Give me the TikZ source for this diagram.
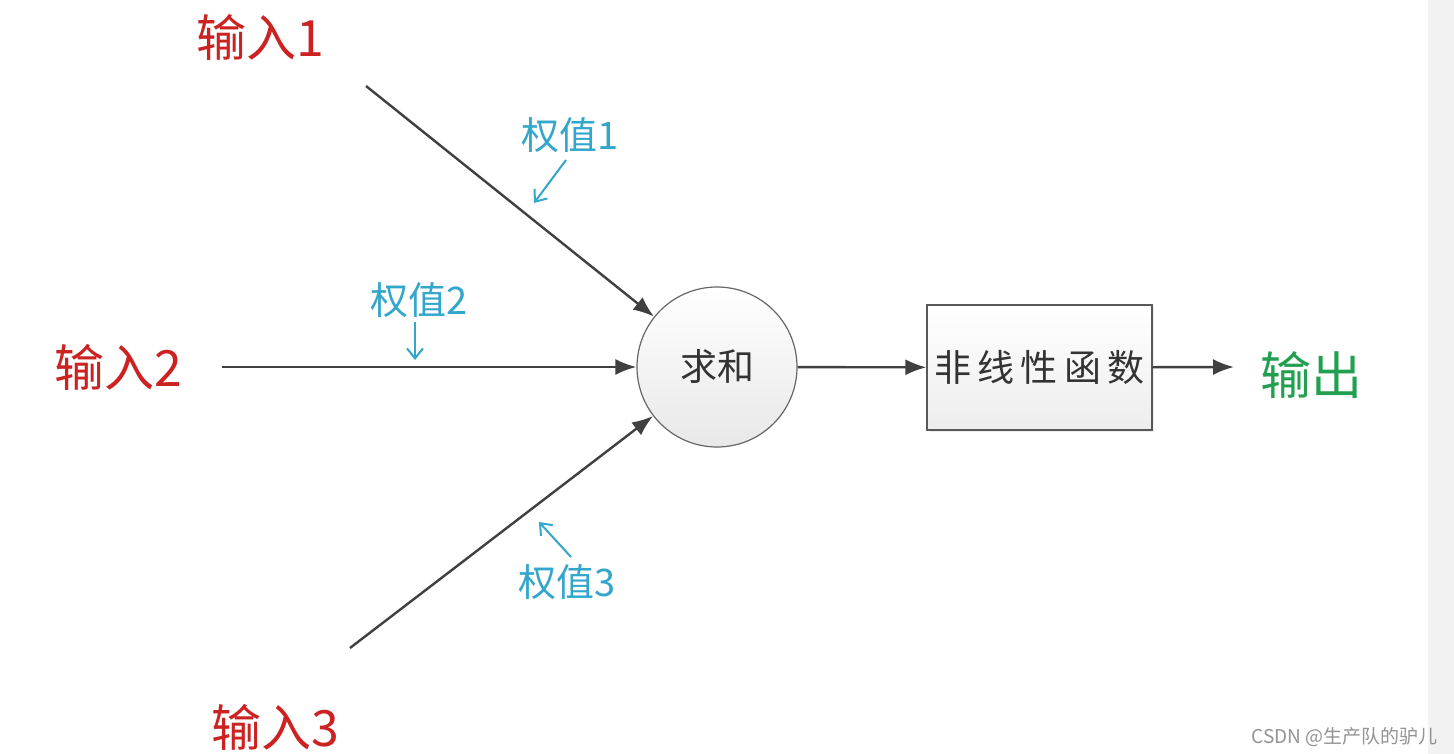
\documentclass[tikz,border=0pt]{standalone}
\usepackage{fontspec}
\newfontfamily\cjk{Noto Sans CJK SC}
\usetikzlibrary{arrows.meta,shadows}
\definecolor{inred}{HTML}{CC2222}
\definecolor{wcyan}{HTML}{33A6CC}
\definecolor{outgreen}{HTML}{22A050}
\definecolor{lgray}{HTML}{404040}
\tikzset{
  conn/.style={draw=lgray, line width=2.4pt, -{Latex[length=21pt,width=16pt]}},
  wtag/.style={text=wcyan, font=\cjk\fontsize{38}{40}\selectfont, inner sep=0pt},
  warrow/.style={draw=wcyan, line width=2pt, -{Straight Barb[length=10pt,width=16pt]}},
  intag/.style={text=inred, font=\cjk\fontsize{50}{52}\selectfont, inner sep=0pt},
  blocktext/.style={font=\cjk\fontsize{37}{39}\selectfont, text=black!80},
}
\begin{document}
\begin{tikzpicture}[x=1pt,y=-1pt]
\useasboundingbox (0,0) rectangle (1454,754);
\fill[white] (0,0) rectangle (1454,754);
\fill[gray!10] (1428,0) rectangle (1454,754);

% main nodes
\node[circle, draw=black!60, line width=1.2pt, minimum size=160pt, inner sep=0pt,
      top color=white, bottom color=gray!18, blocktext] (sum) at (717,367) {求和};
\node[rectangle, draw=black!65, line width=1.2pt, minimum width=225pt, minimum height=125pt,
      top color=white, bottom color=gray!14, drop shadow={opacity=0.15,shadow xshift=2pt,shadow yshift=-2pt},
      blocktext] (nl) at (1039.5,367.5) {非\,线\,性\,函\,数};

% labels
\node[intag] (in1) at (260,37) {输入1};
\node[intag] (in2) at (118,367) {输入2};
\node[intag] (in3) at (275,727) {输入3};
\node[text=outgreen, font=\cjk\fontsize{51}{53}\selectfont, inner sep=0pt] (out) at (1311,375) {输出};

% input line start points
\coordinate (s1) at (366,86);
\coordinate (s2) at (222,367);
\coordinate (s3) at (350,648);
\coordinate (e4) at (1234,367);

\draw[conn] (s1) -- (sum);
\draw[conn] (s2) -- (sum);
\draw[conn] (s3) -- (sum);
\draw[conn] (sum) -- (nl);
\draw[conn] (nl) -- (e4);

% weights
\node[wtag] (w1) at (570,135) {权值1};
\node[wtag] (w2) at (419,300) {权值2};
\node[wtag] (w3) at (567,582) {权值3};
\coordinate (a1s) at (566,160); \coordinate (a1e) at (534,203);
\coordinate (a2s) at (415,322); \coordinate (a2e) at (415,360);
\coordinate (a3s) at (571,557); \coordinate (a3e) at (539,522);
\draw[warrow] (a1s) -- (a1e);
\draw[warrow] (a2s) -- (a2e);
\draw[warrow] (a3s) -- (a3e);

% watermark
\node[text=gray!85, font=\cjk\fontsize{19}{21}\selectfont, inner sep=0pt, anchor=east] (wm) at (1438,737) {CSDN @生产队的驴儿};
\end{tikzpicture}
\end{document}
